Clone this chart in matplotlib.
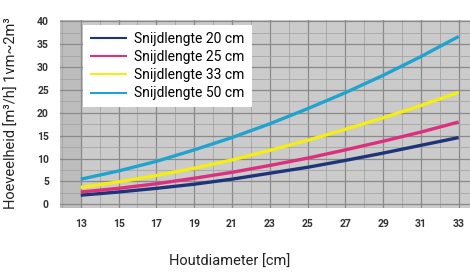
import numpy as np
import matplotlib.pyplot as plt
from matplotlib.ticker import MultipleLocator

diam = [13, 15, 17, 19, 21, 23, 25, 27, 29, 31, 33]
labels = ['Snijdlengte 20 cm', 'Snijdlengte 25 cm', 'Snijdlengte 33 cm', 'Snijdlengte 50 cm']
l20 = [2.0, 2.7, 3.5, 4.4, 5.5, 6.8, 8.1, 9.6, 11.2, 12.9, 14.6]
l25 = [2.7, 3.5, 4.5, 5.7, 7.0, 8.5, 10.1, 11.9, 13.8, 15.8, 18.0]
l33 = [3.7, 4.9, 6.3, 7.9, 9.7, 11.8, 14.0, 16.4, 18.9, 21.6, 24.5]
l50 = [5.5, 7.3, 9.4, 11.9, 14.6, 17.6, 20.9, 24.4, 28.2, 32.3, 36.7]
colors = ['#1e3478', '#dc2f7c', '#f4ee12', '#1fa3cf']

fam = ['Roboto', 'DejaVu Sans']

fig = plt.figure(figsize=(4.7, 2.73), dpi=100)
ax = fig.add_axes([60/470, 1 - 208/273, 410/470, 188/273])
ax.set_facecolor('#cbcbcb')
ax.axvspan(11.9, 13, color='#bdbdbd', zorder=0)

ax.xaxis.set_minor_locator(MultipleLocator(1))
ax.yaxis.set_minor_locator(MultipleLocator(2.5))
ax.grid(which='major', color='#8a8a8a', lw=0.9)
ax.grid(which='minor', color='#a5a5a5', lw=0.6)
ax.set_axisbelow(True)

for ys, c, lab in zip([l20, l25, l33, l50], colors, labels):
    ax.plot(diam, ys, color=c, lw=2.4, label=lab, solid_capstyle='butt')

ax.set_xlim(11.9, 33.6)
ax.set_ylim(-0.8, 40.3)
ax.set_xticks(diam)
ax.set_yticks(range(0, 41, 5))
ax.tick_params(which='both', length=0)
ax.tick_params(labelsize=7.5, labelcolor='#333333', pad=8)
for t in ax.get_xticklabels() + ax.get_yticklabels():
    t.set_fontweight('bold')
    t.set_family(fam)
for s in ax.spines.values():
    s.set_visible(False)

fig.text(230/470, 1 - 262/273, 'Houtdiameter [cm]', fontsize=10.5, family=fam,
         color='#222222', ha='center', va='center')
fig.text(12/470, 1 - 113/273, 'Hoeveelheid [m³/h] 1vm~2m³', fontsize=10.5, family=fam,
         color='#222222', ha='center', va='center', rotation=90)

leg = ax.legend(loc='upper left', bbox_to_anchor=(23/410, 183/188), borderaxespad=0,
                frameon=True, fancybox=False, framealpha=1, edgecolor='white',
                prop={'family': fam, 'size': 10},
                handlelength=2.7, labelspacing=0.3, borderpad=0.5, handletextpad=0.5)
for h in leg.get_lines():
    h.set_linewidth(1.5)
leg.get_frame().set_linewidth(0)

fig.savefig('out.png', dpi=100)
